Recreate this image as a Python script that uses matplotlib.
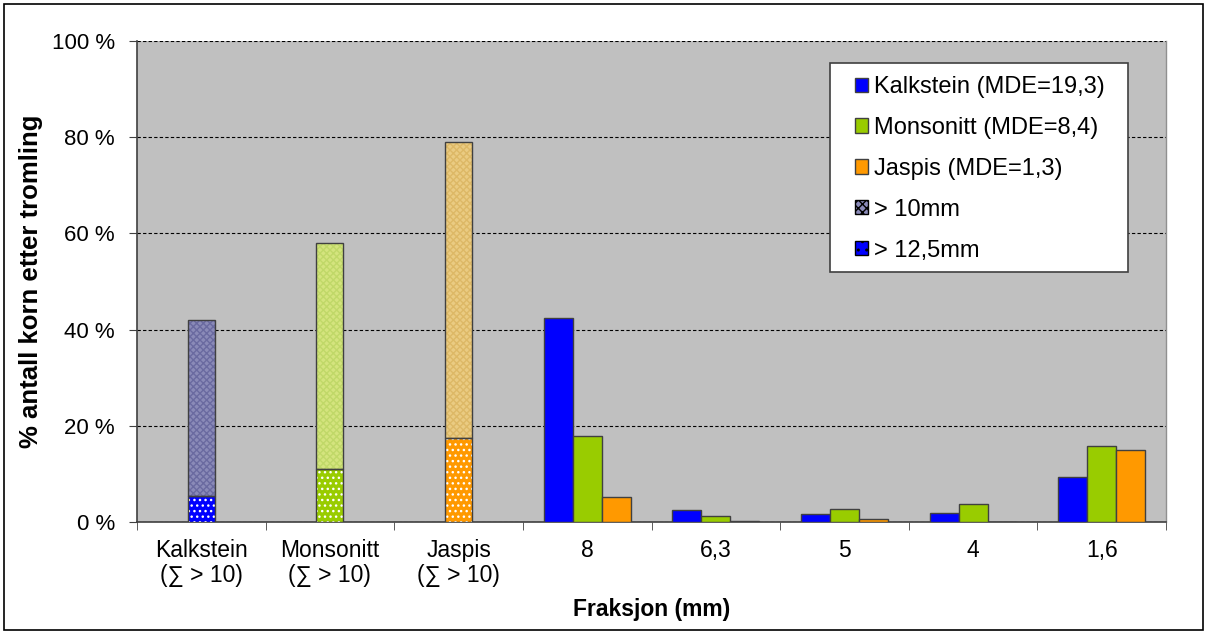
import matplotlib.pyplot as plt
import numpy as np
from matplotlib.patches import Patch, Rectangle

plt.rcParams['font.family'] = ['Liberation Sans', 'DejaVu Sans']

categories = ['Kalkstein\n(∑ > 10)', 'Monsonitt\n(∑ > 10)', 'Jaspis\n(∑ > 10)',
              '8', '6,3', '5', '4', '1,6']

# stacked "sum > 10" bars: total and the > 12,5 mm part
sum_total = [42.0, 58.0, 79.0]
sum_over125 = [5.4, 11.0, 17.4]

# fractions 8 ... 1,6
kalkstein = [42.5, 2.4, 1.6, 1.8, 9.3]
monsonitt = [17.9, 1.2, 2.8, 3.7, 15.9]
jaspis = [5.2, 0.15, 0.6, 0.0, 15.0]

labels = ['Kalkstein (MDE=19,3)', 'Monsonitt (MDE=8,4)', 'Jaspis (MDE=1,3)',
          '> 10mm', '> 12,5mm']

dark = ['#0000FF', '#99CC00', '#FF9900']
light = ['#8A8AB8', '#D4E47E', '#EACB82']
light_hatch = ['#6A6AA0', '#C0D868', '#DDB866']
edge = '#404040'

W, H = 1207, 634
fig = plt.figure(figsize=(W / 100, H / 100), dpi=100)
ax = fig.add_axes([137 / W, 1 - 522 / H, 1029 / W, 481 / H])
ax.set_facecolor('#C0C0C0')

w = 0.225
ws = 0.21
# stacked bars for the first three categories
for i in range(3):
    up = sum_total[i] - sum_over125[i]
    ax.bar(i, up, ws, bottom=sum_over125[i], color=light[i], hatch='xxxxx',
           edgecolor=light_hatch[i], linewidth=0, zorder=3)
    ax.bar(i, up, ws, bottom=sum_over125[i], fill=False, edgecolor=edge,
           linewidth=1, zorder=4)
    ax.bar(i, sum_over125[i], ws, color=dark[i], hatch='...', edgecolor='#FFFFFF',
           linewidth=0, zorder=3)
    ax.bar(i, sum_over125[i], ws, fill=False, edgecolor=edge, linewidth=1, zorder=4)

x = np.arange(3, 8)
for j, vals in enumerate([kalkstein, monsonitt, jaspis]):
    ax.bar(x + (j - 1) * w, vals, w, color=dark[j], edgecolor=edge,
           linewidth=1, zorder=3)

ax.set_xlim(-0.5, 7.5)
ax.set_ylim(0, 100)
ax.set_yticks(range(0, 101, 20))
ax.set_yticklabels([f'{v} %' for v in range(0, 101, 20)], fontsize=16)
ax.set_xticks(range(8))
ax.set_xticklabels(categories, fontsize=16.5, linespacing=1.15)
ax.set_xticks(np.arange(-0.5, 8, 1), minor=True)
ax.tick_params(axis='x', which='major', length=0, pad=12)
ax.tick_params(axis='x', which='minor', length=6, color=edge)
ax.tick_params(axis='y', length=6, color=edge, pad=10)
ax.yaxis.grid(True, linestyle=(0, (3, 2)), color='black', linewidth=0.8, zorder=1)
ax.set_axisbelow(True)
ax.spines['top'].set_visible(False)
ax.spines['right'].set_color('#909090')
ax.spines['right'].set_linewidth(1)
for s in ['left', 'bottom']:
    ax.spines[s].set_color(edge)
    ax.spines[s].set_linewidth(1.2)

ax.set_xlabel('Fraksjon (mm)', fontsize=16.5, fontweight='bold', labelpad=8)
ax.set_ylabel('% antall korn etter tromling', fontsize=18.5, fontweight='bold', labelpad=6)

# legend box drawn separately so the padding matches the original
ax.add_patch(Rectangle((830 / W, 1 - 272 / H), 298 / W, 209 / H,
                       transform=fig.transFigure, facecolor='white',
                       edgecolor='#404040', linewidth=1.2, zorder=5))
handles = [Patch(facecolor=dark[0], edgecolor=edge),
           Patch(facecolor=dark[1], edgecolor=edge),
           Patch(facecolor=dark[2], edgecolor=edge),
           Patch(facecolor=light[0], edgecolor='black', hatch='xxxx'),
           Patch(facecolor=dark[0], edgecolor='black', hatch='..')]
leg = ax.legend(handles, labels, loc='upper left',
                bbox_to_anchor=(855 / W, 1 - 76 / H), bbox_transform=fig.transFigure,
                borderaxespad=0, borderpad=0, fontsize=17, labelspacing=0.8,
                handlelength=0.55, handleheight=0.55, handletextpad=0.25,
                frameon=False)
leg.set_zorder(6)

fig.patches.append(Rectangle((4 / W, 4 / H), 1 - 8 / W, 1 - 8 / H,
                             transform=fig.transFigure, fill=False,
                             edgecolor='black', linewidth=1.2))

fig.savefig('out.png', dpi=100)
